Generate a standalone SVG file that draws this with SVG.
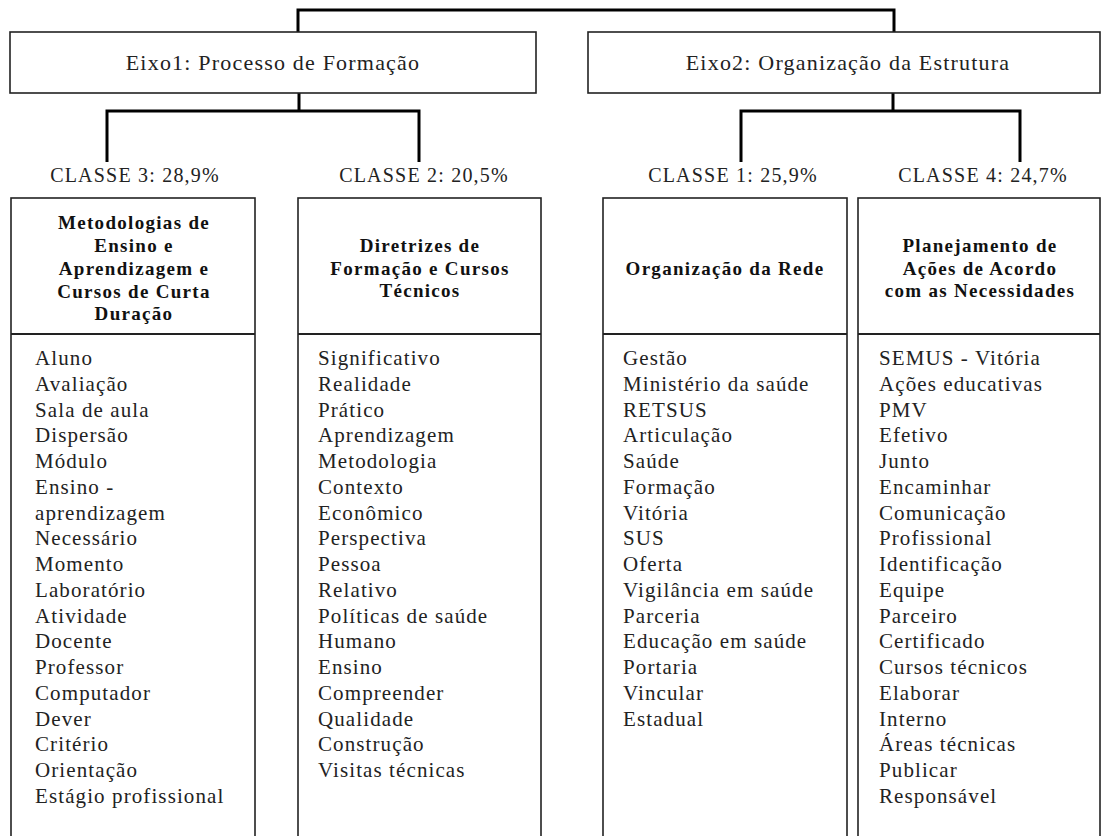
<svg xmlns="http://www.w3.org/2000/svg" width="1104" height="836" viewBox="0 0 1104 836">
<style>
.box{fill:#fff;stroke:#222;stroke-width:1.6}
.sep{stroke:#222;stroke-width:2.2}
.con{fill:none;stroke:#000;stroke-width:3;stroke-linejoin:miter}
.eixo{font-family:"Liberation Serif","Times New Roman",serif;font-size:22px;letter-spacing:1.2px;fill:#222;text-anchor:middle}
.cls{font-family:"Liberation Serif","Times New Roman",serif;font-size:20px;letter-spacing:1.2px;fill:#222;text-anchor:middle}
.hd{font-family:"Liberation Serif","Times New Roman",serif;font-size:19px;font-weight:bold;letter-spacing:1.3px;fill:#111;text-anchor:middle}
.li{font-family:"Liberation Serif","Times New Roman",serif;font-size:21px;letter-spacing:1.1px;fill:#222}
</style>
<rect width="1104" height="836" fill="#fff"/>
<g id="connectors">
<path class="con" d="M298 32 V10 H894 V32"/>
<path class="con" d="M299 93 V111 M107 162 V111 H419 V162"/>
<path class="con" d="M893 93 V111 M741 162 V111 H1020 V162"/>
</g>
<g id="eixo1">
<rect class="box" x="10" y="32" width="526" height="61"/>
<text class="eixo" x="273" y="70">Eixo1: Processo de Formação</text>
</g>
<g id="eixo2">
<rect class="box" x="588" y="32" width="512" height="61"/>
<text class="eixo" x="848" y="70">Eixo2: Organização da Estrutura</text>
</g>
<g id="label-classe3"><text class="cls" x="135" y="182">CLASSE 3: 28,9%</text></g>
<g id="label-classe2"><text class="cls" x="424" y="182">CLASSE 2: 20,5%</text></g>
<g id="label-classe1"><text class="cls" x="733" y="182">CLASSE 1: 25,9%</text></g>
<g id="label-classe4"><text class="cls" x="983" y="182">CLASSE 4: 24,7%</text></g>
<g id="classe3">
<rect class="box" x="11" y="198" width="244" height="660"/>
<line class="sep" x1="11" y1="334" x2="255" y2="334"/>
<text class="hd" x="134" y="229">Metodologias de</text>
<text class="hd" x="134" y="252">Ensino e</text>
<text class="hd" x="134" y="275">Aprendizagem e</text>
<text class="hd" x="134" y="298">Cursos de Curta</text>
<text class="hd" x="134" y="320">Duração</text>
<text class="li" x="35" y="365">Aluno</text>
<text class="li" x="35" y="391">Avaliação</text>
<text class="li" x="35" y="417">Sala de aula</text>
<text class="li" x="35" y="442">Dispersão</text>
<text class="li" x="35" y="468">Módulo</text>
<text class="li" x="35" y="494">Ensino -</text>
<text class="li" x="35" y="520">aprendizagem</text>
<text class="li" x="35" y="545">Necessário</text>
<text class="li" x="35" y="571">Momento</text>
<text class="li" x="35" y="597">Laboratório</text>
<text class="li" x="35" y="623">Atividade</text>
<text class="li" x="35" y="648">Docente</text>
<text class="li" x="35" y="674">Professor</text>
<text class="li" x="35" y="700">Computador</text>
<text class="li" x="35" y="726">Dever</text>
<text class="li" x="35" y="751">Critério</text>
<text class="li" x="35" y="777">Orientação</text>
<text class="li" x="35" y="803">Estágio profissional</text>
</g>
<g id="classe2">
<rect class="box" x="298" y="198" width="243" height="660"/>
<line class="sep" x1="298" y1="334" x2="541" y2="334"/>
<text class="hd" x="420" y="252">Diretrizes de</text>
<text class="hd" x="420" y="275">Formação e Cursos</text>
<text class="hd" x="420" y="297">Técnicos</text>
<text class="li" x="318" y="365">Significativo</text>
<text class="li" x="318" y="391">Realidade</text>
<text class="li" x="318" y="417">Prático</text>
<text class="li" x="318" y="442">Aprendizagem</text>
<text class="li" x="318" y="468">Metodologia</text>
<text class="li" x="318" y="494">Contexto</text>
<text class="li" x="318" y="520">Econômico</text>
<text class="li" x="318" y="545">Perspectiva</text>
<text class="li" x="318" y="571">Pessoa</text>
<text class="li" x="318" y="597">Relativo</text>
<text class="li" x="318" y="623">Políticas de saúde</text>
<text class="li" x="318" y="648">Humano</text>
<text class="li" x="318" y="674">Ensino</text>
<text class="li" x="318" y="700">Compreender</text>
<text class="li" x="318" y="726">Qualidade</text>
<text class="li" x="318" y="751">Construção</text>
<text class="li" x="318" y="777">Visitas técnicas</text>
</g>
<g id="classe1">
<rect class="box" x="603" y="198" width="244" height="660"/>
<line class="sep" x1="603" y1="334" x2="847" y2="334"/>
<text class="hd" x="725" y="275">Organização da Rede</text>
<text class="li" x="623" y="365">Gestão</text>
<text class="li" x="623" y="391">Ministério da saúde</text>
<text class="li" x="623" y="417">RETSUS</text>
<text class="li" x="623" y="442">Articulação</text>
<text class="li" x="623" y="468">Saúde</text>
<text class="li" x="623" y="494">Formação</text>
<text class="li" x="623" y="520">Vitória</text>
<text class="li" x="623" y="545">SUS</text>
<text class="li" x="623" y="571">Oferta</text>
<text class="li" x="623" y="597">Vigilância em saúde</text>
<text class="li" x="623" y="623">Parceria</text>
<text class="li" x="623" y="648">Educação em saúde</text>
<text class="li" x="623" y="674">Portaria</text>
<text class="li" x="623" y="700">Vincular</text>
<text class="li" x="623" y="726">Estadual</text>
</g>
<g id="classe4">
<rect class="box" x="858" y="198" width="242" height="660"/>
<line class="sep" x1="858" y1="334" x2="1100" y2="334"/>
<text class="hd" x="980" y="252">Planejamento de</text>
<text class="hd" x="980" y="275">Ações de Acordo</text>
<text class="hd" x="980" y="297">com as Necessidades</text>
<text class="li" x="879" y="365">SEMUS - Vitória</text>
<text class="li" x="879" y="391">Ações educativas</text>
<text class="li" x="879" y="417">PMV</text>
<text class="li" x="879" y="442">Efetivo</text>
<text class="li" x="879" y="468">Junto</text>
<text class="li" x="879" y="494">Encaminhar</text>
<text class="li" x="879" y="520">Comunicação</text>
<text class="li" x="879" y="545">Profissional</text>
<text class="li" x="879" y="571">Identificação</text>
<text class="li" x="879" y="597">Equipe</text>
<text class="li" x="879" y="623">Parceiro</text>
<text class="li" x="879" y="648">Certificado</text>
<text class="li" x="879" y="674">Cursos técnicos</text>
<text class="li" x="879" y="700">Elaborar</text>
<text class="li" x="879" y="726">Interno</text>
<text class="li" x="879" y="751">Áreas técnicas</text>
<text class="li" x="879" y="777">Publicar</text>
<text class="li" x="879" y="803">Responsável</text>
</g>
</svg>
